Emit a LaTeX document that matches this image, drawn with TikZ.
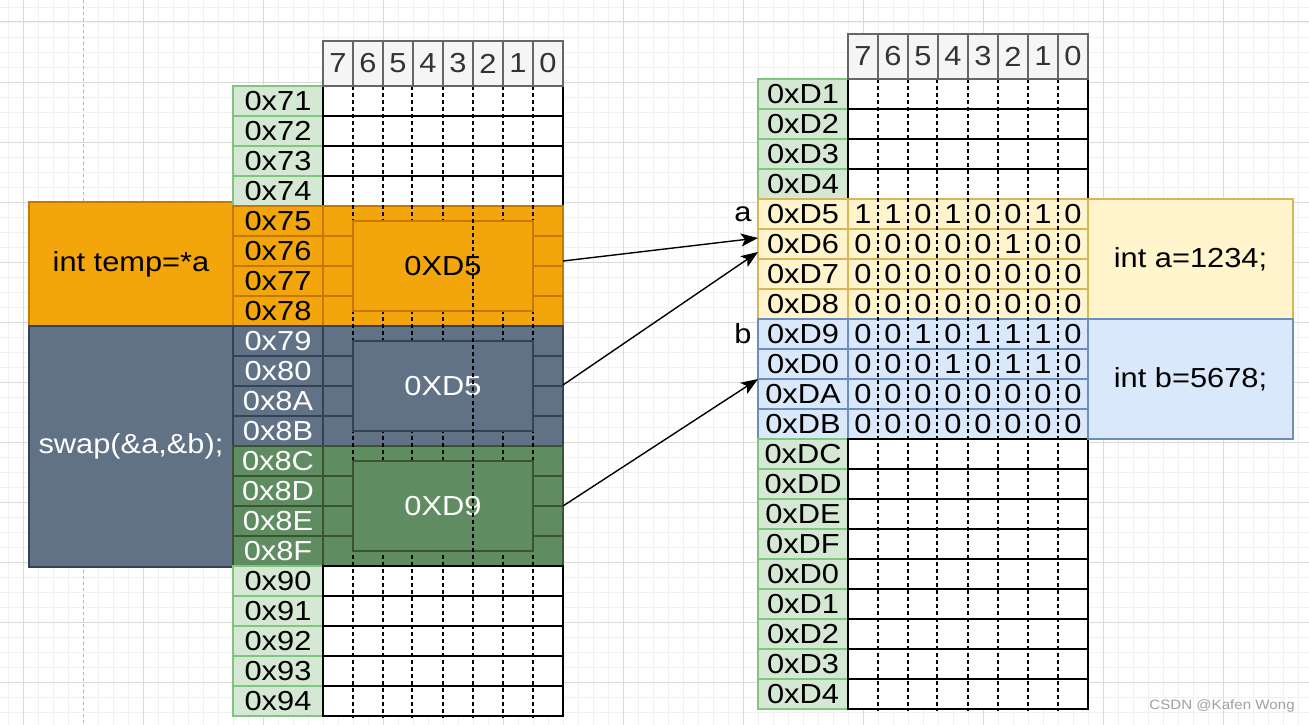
\documentclass[tikz,border=0pt]{standalone}
\usepackage{fontspec}
\setmainfont{Liberation Sans}[FakeStretch=1.12]
\usetikzlibrary{arrows.meta}
\definecolor{addrfill}{HTML}{D5E8D4}
\definecolor{addrdraw}{HTML}{7FC77F}
\definecolor{hdrfill}{HTML}{F5F5F5}
\definecolor{hdrdraw}{HTML}{666666}
\definecolor{hdrtext}{HTML}{333333}
\definecolor{orgfill}{HTML}{F3A50C}
\definecolor{orgdraw}{HTML}{C47A00}
\definecolor{slatefill}{HTML}{617287}
\definecolor{slatedraw}{HTML}{314354}
\definecolor{dgfill}{HTML}{5F8C60}
\definecolor{dgdraw}{HTML}{3A5431}
\definecolor{yelfill}{HTML}{FFF4CC}
\definecolor{yeldraw}{HTML}{D6B656}
\definecolor{blufill}{HTML}{DAE8FC}
\definecolor{bludraw}{HTML}{6C8EBF}
\definecolor{gridminor}{HTML}{F1F1F1}
\definecolor{gridmajor}{HTML}{DADADA}
\definecolor{wmgray}{HTML}{A0A0A0}
\begin{document}
\begin{tikzpicture}[x=1pt,y=-1pt,
  cellbase/.style={inner sep=0pt, outer sep=0pt, line width=1.3pt, font=\fontsize{27.5}{30}\selectfont},
  addr/.style={cellbase, draw=addrdraw, fill=addrfill, minimum width=90pt, minimum height=30pt},
  datarow/.style={cellbase, draw=black, fill=white, minimum width=240pt, minimum height=30pt},
  hdr/.style={cellbase, draw=hdrdraw, fill=hdrfill, text=hdrtext, minimum width=30pt, minimum height=45pt},
  orng/.style={draw=orgdraw, fill=orgfill, text=black},
  slate/.style={draw=slatedraw, fill=slatefill, text=white},
  dgreen/.style={draw=dgdraw, fill=dgfill, text=white},
  yel/.style={draw=yeldraw, fill=yelfill, text=black},
  blu/.style={draw=bludraw, fill=blufill, text=black},
  bitline/.style={line width=1.3pt, dash pattern=on 4pt off 3pt},
  ptrbox/.style={cellbase, minimum width=180pt, minimum height=90pt},
  digit/.style={cellbase},
  conn/.style={line width=1.4pt, -{Stealth[length=17pt,width=13pt,inset=4pt]}},
]
\useasboundingbox (0,0) rectangle (1309,725);
\fill[white] (0,0) rectangle (1309,725);
% background grid
\foreach \x in {8,23,...,1309} \draw[gridminor, line width=0.8pt] (\x,0) -- (\x,725);
\foreach \y in {7,22,...,725} \draw[gridminor, line width=0.8pt] (0,\y) -- (1309,\y);
\foreach \x in {23,143,...,1309} \draw[gridmajor, line width=1pt] (\x,0) -- (\x,725);
\foreach \y in {22,82,...,725} \draw[gridmajor, line width=1pt] (0,\y) -- (1309,\y);
\draw[gray!55, line width=1pt, dash pattern=on 3pt off 3pt] (83,0) -- (83,725);

% left variable boxes
\node[cellbase, orng, minimum width=204pt, minimum height=124pt] (temp) at (131,264) {int temp=*a};
\node[cellbase, slate, minimum width=204pt, minimum height=241pt] (swap) at (131,446.5) {swap(\&a,\&b);};

% left table rows
\foreach \t [count=\i from 0] in {0x71,0x72,0x73,0x74} {
  \node[addr] (L\i) at (278,{101+30*\i}) {\t};
  \node[datarow] (LD\i) at (443,{101+30*\i}) {};
}
\foreach \t [count=\i from 4] in {0x75,0x76,0x77,0x78} {
  \node[addr, orng] (L\i) at (278,{101+30*\i}) {\t};
  \node[datarow, orng] (LD\i) at (443,{101+30*\i}) {};
}
\foreach \t [count=\i from 8] in {0x79,0x80,0x8A,0x8B} {
  \node[addr, slate] (L\i) at (278,{101+30*\i}) {\t};
  \node[datarow, slate] (LD\i) at (443,{101+30*\i}) {};
}
\foreach \t [count=\i from 12] in {0x8C,0x8D,0x8E,0x8F} {
  \node[addr, dgreen] (L\i) at (278,{101+30*\i}) {\t};
  \node[datarow, dgreen] (LD\i) at (443,{101+30*\i}) {};
}
\foreach \t [count=\i from 16] in {0x90,0x91,0x92,0x93,0x94} {
  \node[addr] (L\i) at (278,{101+30*\i}) {\t};
  \node[datarow] (LD\i) at (443,{101+30*\i}) {};
}
\foreach \x in {353,383,412,443,503,533} \draw[bitline] (\x,86) -- (\x,718);

% pointer boxes
\node[ptrbox, orng] (p1) at (443,266) {0XD5};
\node[ptrbox, slate] (p2) at (443,386) {0XD5};
\node[ptrbox, dgreen] (p3) at (443,506) {0XD9};
\draw[bitline] (473,86) -- (473,718);

% left header
\foreach \n [count=\c from 0] in {7,6,5,4,3,2,1,0}
  \node[hdr] (LH\c) at ({338+30*\c},63.5) {\n};

% right table rows
\foreach \t [count=\i from 0] in {0xD1,0xD2,0xD3,0xD4} {
  \node[addr] (R\i) at (803,{94+30*\i}) {\t};
  \node[datarow] (RD\i) at (968,{94+30*\i}) {};
}
\foreach \t [count=\i from 4] in {0xD5,0xD6,0xD7,0xD8} {
  \node[addr, yel] (R\i) at (803,{94+30*\i}) {\t};
  \node[datarow, yel] (RD\i) at (968,{94+30*\i}) {};
}
\foreach \t [count=\i from 8] in {0xD9,0xD0,0xDA,0xDB} {
  \node[addr, blu] (R\i) at (803,{94+30*\i}) {\t};
  \node[datarow, blu] (RD\i) at (968,{94+30*\i}) {};
}
\foreach \t [count=\i from 12] in {0xDC,0xDD,0xDE,0xDF,0xD0,0xD1,0xD2,0xD3,0xD4} {
  \node[addr] (R\i) at (803,{94+30*\i}) {\t};
  \node[datarow] (RD\i) at (968,{94+30*\i}) {};
}
\foreach \x in {878,908,937,968,998,1028,1058} \draw[bitline] (\x,79) -- (\x,711);

% bits
\foreach \bits [count=\r from 4] in {{1,1,0,1,0,0,1,0},{0,0,0,0,0,1,0,0},{0,0,0,0,0,0,0,0},{0,0,0,0,0,0,0,0},{0,0,1,0,1,1,1,0},{0,0,0,1,0,1,1,0},{0,0,0,0,0,0,0,0},{0,0,0,0,0,0,0,0}} {
  \foreach \b [count=\c from 0] in \bits
    \node[digit] (B\r-\c) at ({863+30*\c},{94+30*\r}) {\b};
}

% right variable boxes
\node[cellbase, yel, minimum width=205pt, minimum height=120pt] (va) at (1190.5,259) {int a=1234;};
\node[cellbase, blu, minimum width=205pt, minimum height=120pt] (vb) at (1190.5,379) {int b=5678;};

% right header
\foreach \n [count=\c from 0] in {7,6,5,4,3,2,1,0}
  \node[hdr] (RH\c) at ({863+30*\c},56.5) {\n};

% labels a / b
\node[cellbase] (la) at (743,214) {a};
\node[cellbase] (lb) at (743,334) {b};

% arrows
\coordinate (s1) at (563,261); \coordinate (e1) at (758,238);
\coordinate (s2) at (563,385); \coordinate (e2) at (758,252);
\coordinate (s3) at (563,506); \coordinate (e3) at (758,379);
\draw[conn] (s1) -- (e1);
\draw[conn] (s2) -- (e2);
\draw[conn] (s3) -- (e3);

% watermark
\node[inner sep=0pt, text=wmgray, font=\fontsize{13.5}{15}\selectfont] (wm) at (1222,706) {CSDN @Kafen Wong};
\end{tikzpicture}
\end{document}
